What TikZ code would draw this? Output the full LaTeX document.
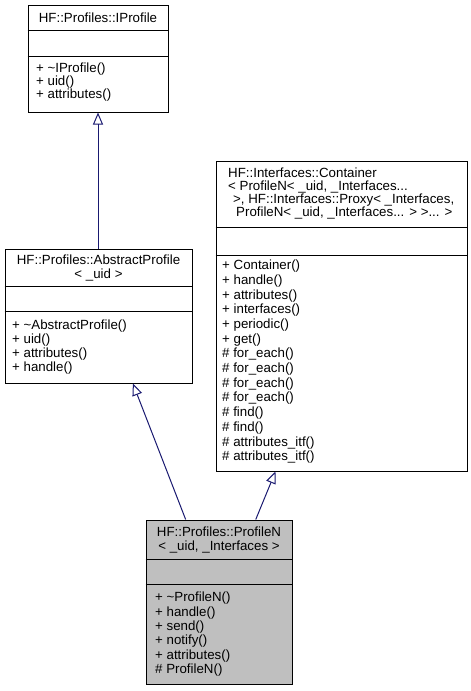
\documentclass[tikz,border=0pt]{standalone}
\usepackage{fontspec}
\setmainfont{Liberation Sans}
\usepackage{xcolor}
\usetikzlibrary{arrows.meta,positioning}
\definecolor{midnight}{HTML}{191970}
\definecolor{grey75}{HTML}{BFBFBF}

\begin{document}
\begin{tikzpicture}[x=1pt,y=-1pt,>={Triangle[open,length=12pt,width=10pt]},
                    cls/.style={draw,line width=1pt,inner sep=0pt},
                    title/.style={inner sep=0pt,align=center,font=\fontsize{13.3}{13}\selectfont},
                    member/.style={inner sep=0pt,anchor=mid west,font=\fontsize{13.3}{13}\selectfont},
                    inherit/.style={<-,draw=midnight,line width=1pt}]
\useasboundingbox (0,0) rectangle (471,691);
% class boxes
\node[cls,minimum width=140,minimum height=107] (iprofile) at (98,58.5) {};
\node[cls,minimum width=187,minimum height=134] (abstract) at (98.5,316) {};
\node[cls,minimum width=251,minimum height=310] (container) at (341.5,316) {};
\node[cls,fill=grey75,minimum width=146,minimum height=164] (profilen) at (219,602) {};
% compartments
\draw (iprofile.north west) ++(0,26) -- ++(140,0) ++(-140,26) -- ++(140,0);
\draw (abstract.north west) ++(0,38) -- ++(187,0) ++(-187,25) -- ++(187,0);
\draw (container.north west) ++(0,67) -- ++(251,0) ++(-251,28) -- ++(251,0);
\draw (profilen.north west) ++(0,40) -- ++(146,0) ++(-146,25) -- ++(146,0);
% titles
\node[title] (iprofile-t) at (98,17.5) {HF::Profiles::IProfile};
\node[title,font=\fontsize{13.3}{14}\selectfont] (abstract-t) at (98.5,268)
     {HF::Profiles::AbstractProfile\\< \_uid >};
\node[title,align=left,anchor=west] (container-t) at (228,193.5)
     {HF::Interfaces::Container\\< ProfileN< \_uid, \_Interfaces...\\
      \hspace*{5pt}>, HF::Interfaces::Proxy< \_Interfaces,\\
      \hspace*{8pt}ProfileN< \_uid, \_Interfaces... > >... >};
\node[title,font=\fontsize{13.3}{14}\selectfont] (profilen-t) at (219,540)
     {HF::Profiles::ProfileN\\< \_uid, \_Interfaces >};
% operations
\foreach \m [count=\i from 0] in {+ \textasciitilde IProfile(), + uid(), + attributes()}
  \node[member] (iprofile-m\i) at (36,70+13*\i) {\m};
\foreach \m [count=\i from 0] in {+ \textasciitilde AbstractProfile(), + uid(), + attributes(),
    + handle()}
  \node[member] (abstract-m\i) at (12,327+14*\i) {\m};
\foreach \m [count=\i from 0] in {+ Container(), + handle(), + attributes(), + interfaces(),
    + periodic(), + get(), \# for\_each(), \# for\_each(), \# for\_each(), \# for\_each(),
    \# find(), \# find(), \# attributes\_itf(), \# attributes\_itf()}
  \node[member] (container-m\i) at (222,267+14.7*\i) {\m};
\foreach \m [count=\i from 0] in {+ \textasciitilde ProfileN(), + handle(), + send(), + notify(),
    + attributes(), \# ProfileN()}
  \node[member] (profilen-m\i) at (155,599+14.4*\i) {\m};
% inheritance
\draw[inherit] (iprofile.south) -- (iprofile.south |- abstract.north);
\draw[inherit] (abstract.-63.4) -- (profilen.112.5);
\draw[inherit] (container.-113.5) -- (profilen.66.3);
\end{tikzpicture}
\end{document}
